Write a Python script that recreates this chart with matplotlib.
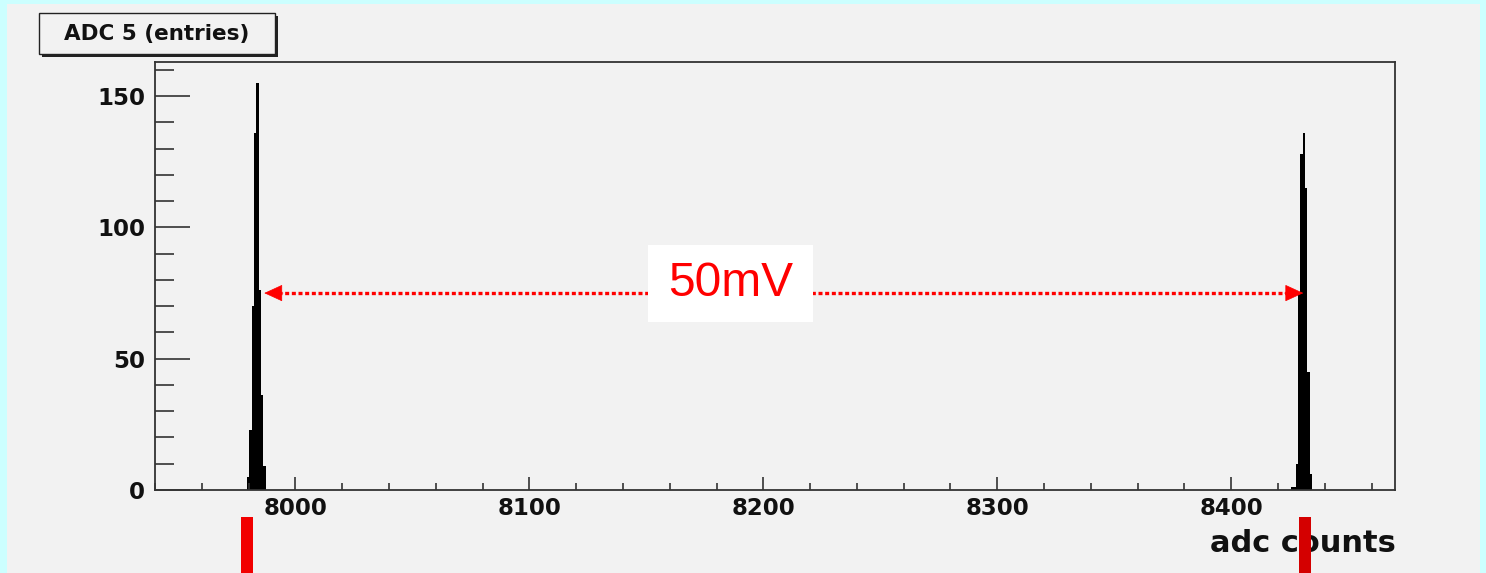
import matplotlib
import matplotlib.pyplot as plt
import numpy as np
from matplotlib.patches import Rectangle
from matplotlib.ticker import MultipleLocator

matplotlib.use('agg')

# histogram contents (bin width 1 adc count)
left_start = 7979.3
left_counts = [5, 23, 70, 136, 155, 76, 36, 9]
right_start = 8425.5
right_counts = [1, 1, 10, 75, 128, 136, 115, 45, 6]

title = 'ADC 5 (entries)'
x_label = 'adc counts'
gap_label = '50mV'
arrow_y = 75
arrow_left = 7986.7
arrow_right = 8430.8
marker_left = 7979.5
marker_right = 8431.4

W, H = 1486, 573
PANEL = '#f2f2f2'


def px(x, y):
    # pixel position (from top left) to figure fraction
    return x / W, 1 - y / H


def main():
    fig = plt.figure(figsize=(W / 100, H / 100), dpi=100)
    fig.patch.set_facecolor('#ccffff')
    fig.add_artist(Rectangle(px(7, 573), 1473 / W, 569 / H, transform=fig.transFigure,
                             facecolor=PANEL, edgecolor='none', zorder=0))

    ax = fig.add_axes([155 / W, 1 - 490 / H, 1240 / W, 428 / H])
    ax.set_facecolor(PANEL)

    for start, counts in [(left_start, left_counts), (right_start, right_counts)]:
        edges = start + np.arange(len(counts) + 1)
        ax.stairs(counts, edges, fill=True, color='black', linewidth=0)

    ax.set_xlim(7940, 8470)
    ax.set_ylim(0, 163)
    ax.xaxis.set_major_locator(MultipleLocator(100))
    ax.xaxis.set_minor_locator(MultipleLocator(20))
    ax.yaxis.set_major_locator(MultipleLocator(50))
    ax.yaxis.set_minor_locator(MultipleLocator(10))

    for s in ax.spines.values():
        s.set_color('#333333')
        s.set_linewidth(1.3)

    ax.tick_params(axis='both', which='both', direction='in', color='#333333', width=1.2,
                   top=False, right=False)
    ax.tick_params(axis='y', which='major', length=25, pad=7)
    ax.tick_params(axis='y', which='minor', length=14)
    ax.tick_params(axis='x', which='major', length=9.5, pad=5)
    ax.tick_params(axis='x', which='minor', length=5)
    for lab in ax.get_xticklabels() + ax.get_yticklabels():
        lab.set_fontfamily('DejaVu Sans')
        lab.set_fontweight('bold')
        lab.set_fontsize(16.5)
        lab.set_color('#111111')

    # dotted red arrow between the two peaks
    ax.plot([arrow_left + 6, arrow_right - 6], [arrow_y, arrow_y], color='#ff0000',
            linewidth=2.4, linestyle=(0, (1.2, 0.8)), solid_capstyle='butt',
            dash_capstyle='butt', zorder=3)
    for tip, tail in [(arrow_left, arrow_left + 8), (arrow_right, arrow_right - 8)]:
        ax.annotate('', xy=(tip, arrow_y), xytext=(tail, arrow_y),
                    arrowprops=dict(arrowstyle='-|>,head_length=1.2,head_width=0.55',
                                    color='#ff0000', linewidth=0.5, shrinkA=0, shrinkB=0),
                    zorder=4)

    fig.add_artist(Rectangle(px(648, 322), 165 / W, 77 / H, transform=fig.transFigure,
                             facecolor='white', edgecolor='none', zorder=5))
    fig.text(730.5 / W, 1 - 284 / H, gap_label, ha='center', va='center',
             fontsize=34.5, color='#ff0000', family='Liberation Sans', zorder=6)

    # red markers under the axis
    for xm, col in [(marker_left, '#f20000'), (marker_right, '#d40000')]:
        xf = fig.transFigure.inverted().transform(ax.transData.transform((xm, 0)))[0]
        fig.add_artist(Rectangle((xf - 6 / W, 0), 12 / W, 56 / H, transform=fig.transFigure,
                                 facecolor=col, edgecolor='none', zorder=6))

    fig.text(1396 / W, 1 - 552 / H, x_label, ha='right', va='baseline', fontsize=22,
             fontweight='bold', family='DejaVu Sans', color='#111111', zorder=5)

    # title box with ROOT style shadow
    fig.add_artist(Rectangle(px(42, 57), 236 / W, 41 / H, transform=fig.transFigure,
                             facecolor='#222222', edgecolor='none', zorder=4))
    fig.add_artist(Rectangle(px(39, 54), 236 / W, 41 / H, transform=fig.transFigure,
                             facecolor=PANEL, edgecolor='#222222', linewidth=1, zorder=5))
    fig.text(157 / W, 1 - 34 / H, title, ha='center', va='center', fontsize=15.5,
             fontweight='bold', family='DejaVu Sans', color='#111111', zorder=6)

    fig.savefig('out.png', dpi=100, facecolor=fig.get_facecolor())


if __name__ == '__main__':
    main()
